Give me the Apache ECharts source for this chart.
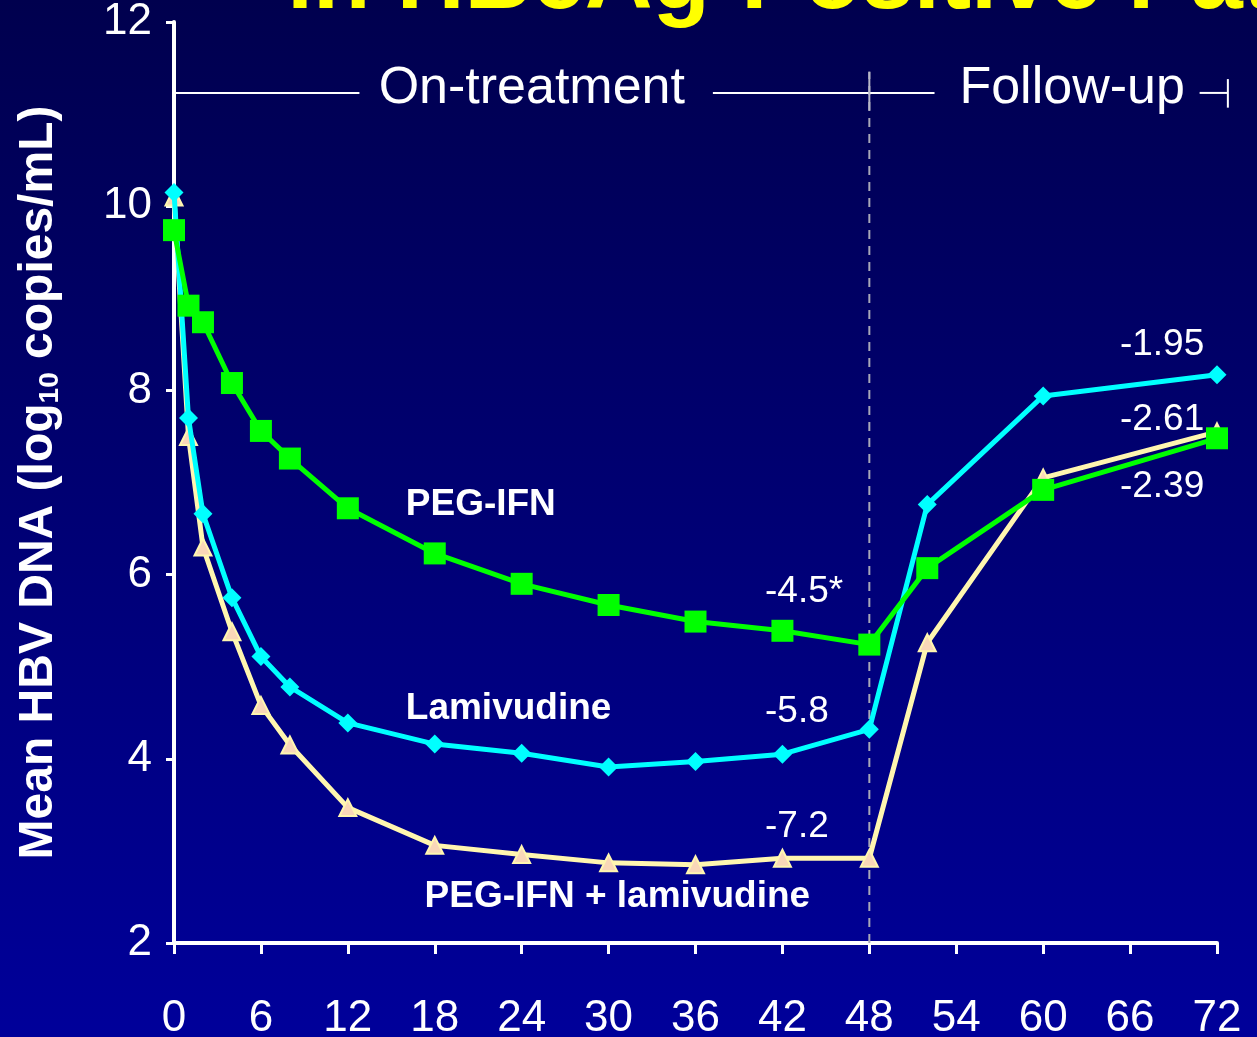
<!DOCTYPE html>
<html><head><meta charset="utf-8">
<script src="https://cdn.jsdelivr.net/npm/echarts@6/dist/echarts.min.js"></script>
<style>html,body{margin:0;padding:0;background:#000050}#c{width:1257px;height:1037px}</style>
</head><body><div id="c"></div>
<script>
// ---- data ----
const weeks = [0, 1, 2, 4, 6, 8, 12, 18, 24, 30, 36, 42, 48, 52, 60, 72];
const pegIfn = [9.74, 8.92, 8.74, 8.08, 7.56, 7.26, 6.72, 6.23, 5.90, 5.67, 5.49, 5.39, 5.24, 6.07, 6.92, 7.48];
const lamivudine = [10.15, 7.70, 6.66, 5.75, 5.11, 4.78, 4.39, 4.16, 4.06, 3.91, 3.97, 4.05, 4.32, 6.76, 7.94, 8.17];
const combo = [10.10, 7.50, 6.30, 5.38, 4.58, 4.15, 3.47, 3.06, 2.96, 2.87, 2.85, 2.92, 2.92, 5.26, 7.05, 7.55];
const xTicks = [0, 6, 12, 18, 24, 30, 36, 42, 48, 54, 60, 66, 72];
const yTicks = [2, 4, 6, 8, 10, 12];
const seriesNames = ['PEG-IFN', 'Lamivudine', 'PEG-IFN + lamivudine'];
const changeLabels = ['-4.5*', '-5.8', '-7.2', '-1.95', '-2.61', '-2.39'];
const phaseLabels = ['On-treatment', 'Follow-up'];
const endOfTreatment = 48;
const titleText = 'in HBeAg-Positive Patients';

// ---- annotation placement (data coordinates) ----
const namePos = [[16.0, 6.76], [16.0, 4.54], [17.3, 2.50]];
const changePos = [[40.8, 5.81], [40.8, 4.51], [40.8, 3.26], [65.3, 8.50], [65.3, 7.68], [65.3, 6.95]];
const phasePos = [[24.7, 11.28], [62.0, 11.28]];
const bracketY = 11.23;
const bracketSegs = [
  [[0, bracketY], [12.8, bracketY]],
  [[37.2, bracketY], [52.5, bracketY]],
  [[70.8, bracketY], [72.75, bracketY]],
  [[72.75, 11.07], [72.75, 11.38]],
  [[endOfTreatment, 11.04], [endOfTreatment, 11.46]]
];

const FONT = '"Liberation Sans", Arial, sans-serif';
const pair = (xs, ys) => xs.map((x, i) => [x, ys[i]]);

const series = [];
series.push({
  type: 'line', data: [[endOfTreatment, 2], [endOfTreatment, 11.46]], symbol: 'none', silent: true,
  lineStyle: { color: '#a8a8b8', width: 2, type: [9, 7] }, z: 1
});
// data series
series.push({
  name: seriesNames[2], type: 'line', data: pair(weeks, combo),
  symbol: 'triangle', symbolSize: 17, showAllSymbol: true,
  lineStyle: { color: '#FFF6B0', width: 5 },
  itemStyle: { color: '#F9D7B8', borderColor: '#FFF6B0', borderWidth: 2 }, z: 3
});
series.push({
  name: seriesNames[1], type: 'line', data: pair(weeks, lamivudine),
  symbol: 'diamond', symbolSize: 19, showAllSymbol: true,
  lineStyle: { color: '#00FFFF', width: 5 },
  itemStyle: { color: '#00FFFF' }, z: 4
});
series.push({
  name: seriesNames[0], type: 'line', data: pair(weeks, pegIfn),
  symbol: 'rect', symbolSize: 22, showAllSymbol: true,
  lineStyle: { color: '#00FF00', width: 5 },
  itemStyle: { color: '#00FF00' }, z: 5
});
// text annotations
const textSeries = (pos, texts, style) => ({
  type: 'scatter', symbolSize: 0, silent: true, clip: false, z: 6,
  itemStyle: { opacity: 1 },
  data: pos.map((p, i) => ({ value: p, label: { formatter: texts[i] } })),
  label: Object.assign({ show: true, position: 'right', distance: 0, color: '#ffffff', opacity: 1, fontFamily: FONT }, style)
});
series.push(textSeries(namePos, seriesNames, { fontSize: 37, fontWeight: 'bold' }));
series.push(textSeries(changePos, changeLabels, { fontSize: 37 }));
series.push(textSeries(phasePos, phaseLabels, { fontSize: 52, position: 'inside', align: 'center', verticalAlign: 'middle' }));

const titleGraphic = {
  type: 'text', silent: true, z: 10,
  style: { text: titleText, x: 287, y: -18, fill: '#FFFF00', font: 'bold 94px ' + FONT, verticalAlign: 'middle' }
};

const chart = echarts.init(document.getElementById('c'));
chart.setOption({
  backgroundColor: new echarts.graphic.LinearGradient(0, 0, 0, 1, [
    { offset: 0, color: '#00004e' }, { offset: 1, color: '#00009a' }
  ]),
  animation: false,
  grid: { left: 174, right: 40, top: 22, bottom: 94, containLabel: false, outerBoundsMode: 'none' },
  xAxis: {
    type: 'value', min: xTicks[0], max: xTicks[xTicks.length - 1], interval: xTicks[1] - xTicks[0],
    splitLine: { show: false },
    axisLine: { lineStyle: { color: '#ffffff', width: 4 } },
    axisTick: { lineStyle: { color: '#ffffff', width: 3 }, length: 11 },
    axisLabel: { color: '#ffffff', fontSize: 44, fontFamily: FONT, margin: 54 }
  },
  yAxis: {
    type: 'value', min: yTicks[0], max: yTicks[yTicks.length - 1], interval: yTicks[1] - yTicks[0],
    splitLine: { show: false },
    axisLine: { show: true, lineStyle: { color: '#ffffff', width: 4 } },
    axisTick: { show: true, lineStyle: { color: '#ffffff', width: 3 }, length: 8 },
    axisLabel: { color: '#ffffff', fontSize: 44, fontFamily: FONT, margin: 22 },
    name: 'Mean HBV DNA (log{sub|10} copies/mL)',
    nameLocation: 'middle', nameRotate: 90, nameGap: 110,
    nameTextStyle: {
      color: '#ffffff', fontSize: 48, fontWeight: 'bold', fontFamily: FONT,
      rich: { sub: { fontSize: 28, fontWeight: 'bold', color: '#ffffff', fontFamily: FONT, padding: [22, 0, 0, 0] } }
    }
  },
  graphic: [titleGraphic],
  series: series
});

// bracket lines above the plot, placed through the chart's own coordinate conversion
const px = p => chart.convertToPixel({ gridIndex: 0 }, p);
const brackets = bracketSegs.map((seg, i) => {
  const a = px(seg[0]), b = px(seg[1]);
  return {
    type: 'line', silent: true, z: 2,
    shape: { x1: a[0], y1: a[1], x2: b[0], y2: b[1] },
    style: { stroke: i === 4 ? '#b8b8c8' : '#ffffff', lineWidth: 2 }
  };
});
chart.setOption({ graphic: [titleGraphic].concat(brackets) });
</script></body></html>
